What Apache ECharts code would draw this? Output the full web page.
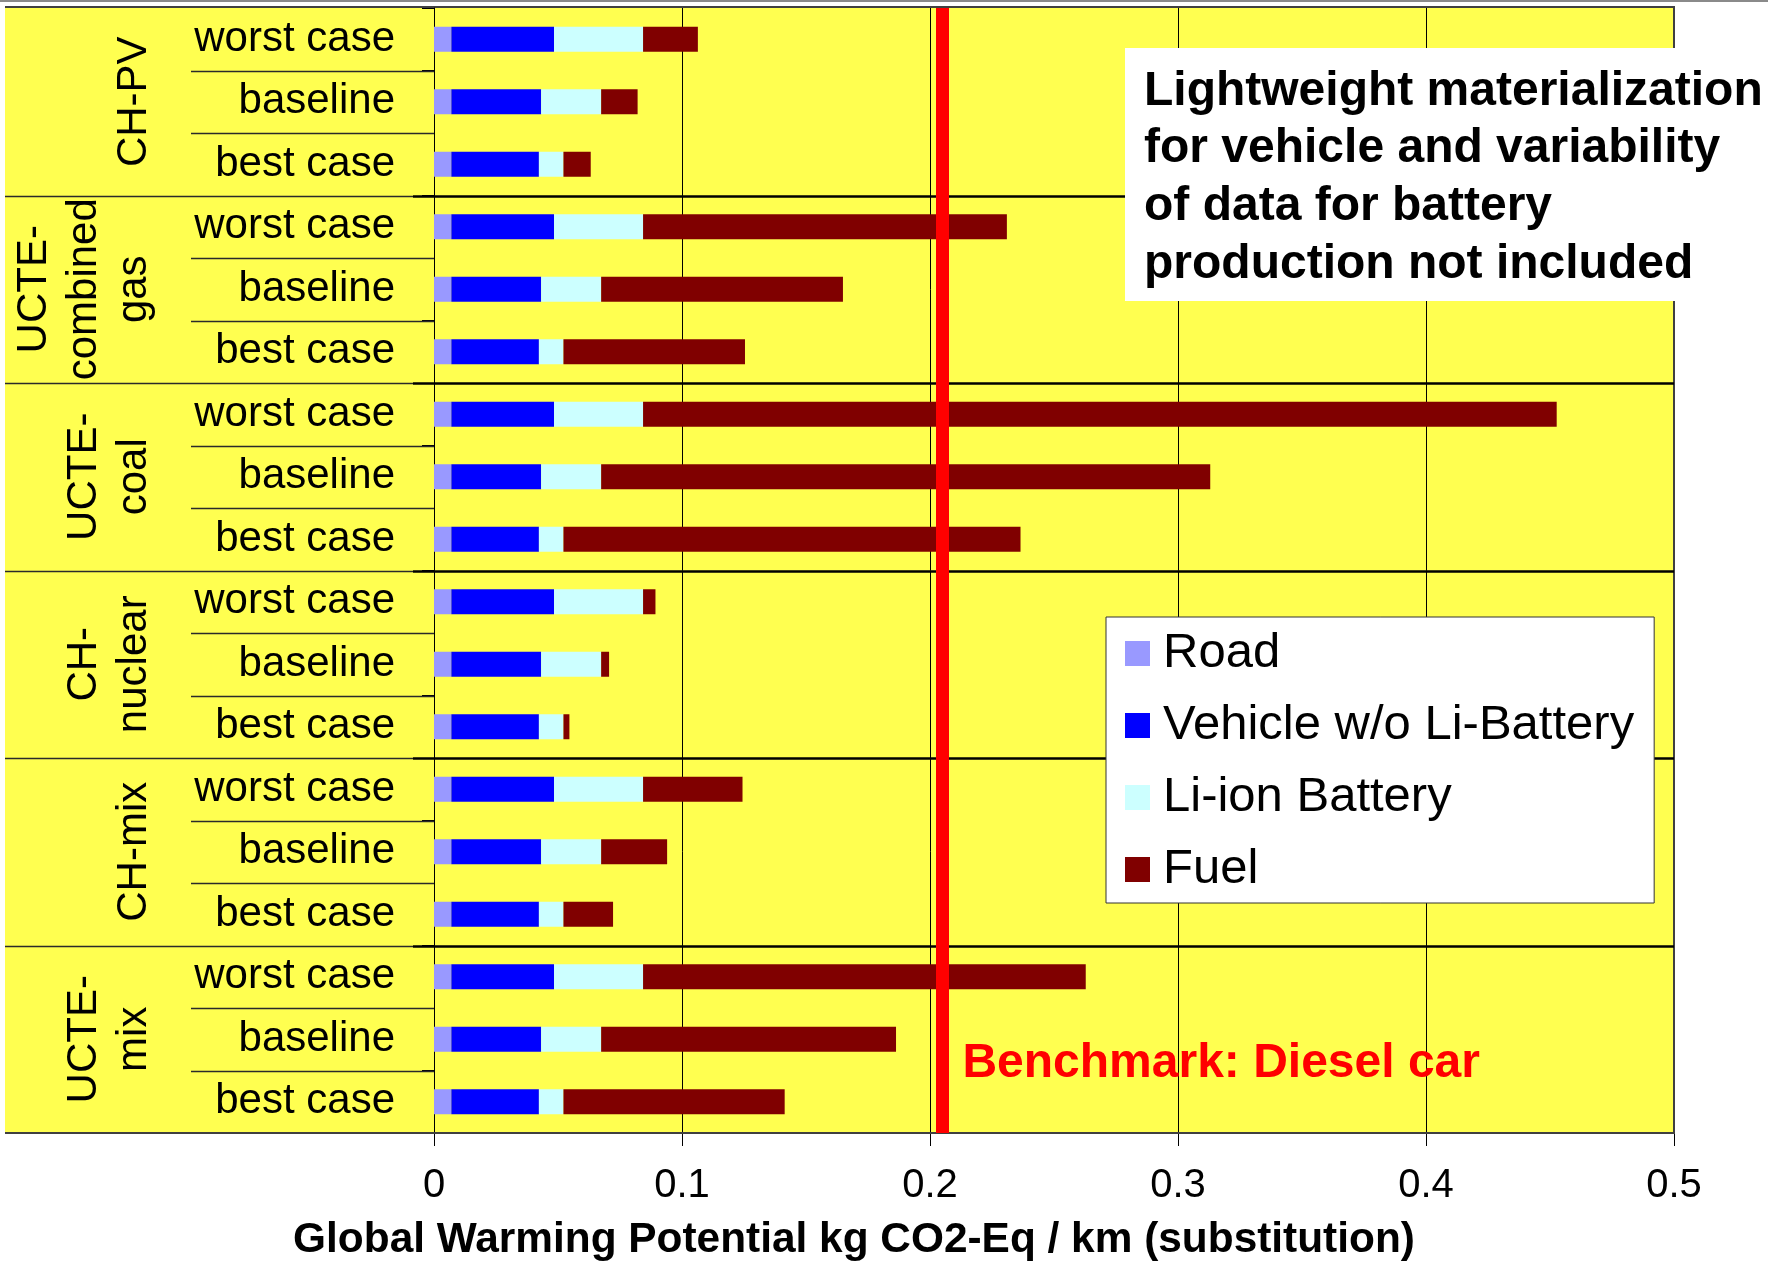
<!DOCTYPE html>
<html>
<head>
<meta charset="utf-8">
<script src="https://cdn.jsdelivr.net/npm/echarts@6/dist/echarts.min.js"></script>
<style>
  html, body { margin: 0; padding: 0; background: #fff; }
  #chart { width: 1768px; height: 1261px; }
</style>
</head>
<body>
<div id="chart"></div>
<script>
// Electricity supply scenarios (one group of three cases each), top to bottom
const groupNames = ['CH-PV', 'UCTE-\ncombined\ngas', 'UCTE-\ncoal', 'CH-\nnuclear', 'CH-mix', 'UCTE-\nmix'];
const caseNames = ['worst case', 'baseline', 'best case'];

// One row per scenario case (18 rows)
const categories = [
  'worst case', 'baseline', 'best case',
  'worst case', 'baseline', 'best case',
  'worst case', 'baseline', 'best case',
  'worst case', 'baseline', 'best case',
  'worst case', 'baseline', 'best case',
  'worst case', 'baseline', 'best case'
];

// kg CO2-Eq / km contributions
const road = [
  0.007, 0.007, 0.007,
  0.007, 0.007, 0.007,
  0.007, 0.007, 0.007,
  0.007, 0.007, 0.007,
  0.007, 0.007, 0.007,
  0.007, 0.007, 0.007
];
const vehicle = [
  0.0414, 0.0362, 0.0353,
  0.0414, 0.0362, 0.0353,
  0.0414, 0.0362, 0.0353,
  0.0414, 0.0362, 0.0353,
  0.0414, 0.0362, 0.0353,
  0.0414, 0.0362, 0.0353
];
const battery = [
  0.0359, 0.0242, 0.0099,
  0.0359, 0.0242, 0.0099,
  0.0359, 0.0242, 0.0099,
  0.0359, 0.0242, 0.0099,
  0.0359, 0.0242, 0.0099,
  0.0359, 0.0242, 0.0099
];
const fuel = [
  0.0221, 0.0147, 0.0110,
  0.1467, 0.0975, 0.0732,
  0.3684, 0.2456, 0.1843,
  0.0050, 0.0032, 0.0024,
  0.0401, 0.0266, 0.0200,
  0.1785, 0.1189, 0.0892
];

const benchmarkDiesel = 0.205;
const xTickLabels = ['0', '0.1', '0.2', '0.3', '0.4', '0.5'];

const seriesNames = ['Road', 'Vehicle w/o Li-Battery', 'Li-ion Battery', 'Fuel'];
const seriesValues = [road, vehicle, battery, fuel];
const seriesColors = ['#9999FF', '#0000FF', '#CCFFFF', '#800000'];

const noteLines = [
  'Lightweight materialization',
  'for vehicle and variability',
  'of data for battery',
  'production not included'
];
const benchmarkLabel = 'Benchmark: Diesel car';
const axisTitle = 'Global Warming Potential kg CO2-Eq / km (substitution)';

const FONT = '"Liberation Sans", Arial, Helvetica, sans-serif';
const W = 1768, H = 1261;
const GRID = { left: 434, right: 94, top: 8, bottom: 128 };
const plotTop = GRID.top;
const plotBottom = H - GRID.bottom;
const panelLeft = 5;
const YELLOW = '#FFFF50';

const chart = echarts.init(document.getElementById('chart'), null, { renderer: 'canvas' });

chart.setOption({
  animation: false,
  backgroundColor: '#ffffff',
  textStyle: { fontFamily: FONT },
  grid: { left: GRID.left, right: GRID.right, top: GRID.top, bottom: GRID.bottom, containLabel: false },
  xAxis: {
    type: 'value',
    min: 0,
    max: 0.5,
    interval: 0.1,
    axisLine: { show: true, onZero: false, lineStyle: { color: '#404040', width: 2 } },
    axisTick: { show: true, length: 13, lineStyle: { color: '#000', width: 1 } },
    axisLabel: {
      fontSize: 40, color: '#000', margin: 33, fontFamily: FONT,
      formatter: (v, idx) => xTickLabels[idx]
    },
    splitLine: { show: true, lineStyle: { color: '#000', width: 1 } }
  },
  yAxis: {
    type: 'category',
    inverse: true,
    data: categories,
    axisLine: { show: true, lineStyle: { color: '#000', width: 1 } },
    axisTick: { show: true, length: 12, lineStyle: { color: '#000', width: 1 } },
    axisLabel: { fontSize: 42, color: '#000', margin: 39, fontFamily: FONT, padding: [5, 0, 0, 0] },
    splitLine: { show: false }
  },
  legend: {
    orient: 'vertical',
    left: 1106,
    top: 617,
    backgroundColor: '#ffffff',
    borderColor: '#333333',
    borderWidth: 1,
    padding: [12, 20, 9, 19],
    itemGap: 23,
    itemWidth: 25,
    itemHeight: 25,
    icon: 'rect',
    selectedMode: false,
    textStyle: { fontSize: 49, lineHeight: 49, color: '#000', fontFamily: FONT, padding: [0, 0, 0, 8] },
    data: seriesNames
  },
  series: seriesNames.map((name, i) => {
    const s = {
      name: name,
      type: 'bar',
      stack: 'gwp',
      barWidth: '40%',
      data: seriesValues[i],
      itemStyle: { color: seriesColors[i] },
      silent: true
    };
    if (i === seriesNames.length - 1) {
      s.markLine = {
        silent: true,
        precision: 4,
        symbol: ['none', 'none'],
        label: { show: false },
        lineStyle: { color: '#FF0000', width: 13, type: 'solid' },
        data: [{ xAxis: benchmarkDiesel }]
      };
    }
    return s;
  })
});

// Decorations placed from the chart's own axis scales
const xPx = v => chart.convertToPixel({ xAxisIndex: 0 }, v);
const yPx = i => chart.convertToPixel({ yAxisIndex: 0 }, i);
const plotLeft = xPx(0);
const plotRight = xPx(0.5);
const rowBoundary = k => {
  if (k <= 0) return plotTop;
  if (k >= categories.length) return plotBottom;
  return (yPx(k - 1) + yPx(k)) / 2;
};

const gfx = [];

// yellow panel behind labels and plot
gfx.push({
  type: 'rect', z: -10, silent: true,
  shape: { x: panelLeft, y: plotTop, width: plotRight - panelLeft, height: plotBottom - plotTop },
  style: { fill: YELLOW }
});

// thin grey rule at the very top of the page
gfx.push({
  type: 'rect', z: 1, silent: true,
  shape: { x: 0, y: 0, width: W, height: 2 },
  style: { fill: '#8a8a8a' }
});

// frame lines
gfx.push({ type: 'line', z: 1, silent: true,
  shape: { x1: panelLeft, y1: plotTop - 1, x2: plotRight + 1, y2: plotTop - 1 },
  style: { stroke: '#000', lineWidth: 1.5 } });
gfx.push({ type: 'line', z: 1, silent: true,
  shape: { x1: panelLeft, y1: plotBottom, x2: plotRight + 1, y2: plotBottom },
  style: { stroke: '#404040', lineWidth: 2 } });
gfx.push({ type: 'line', z: 1, silent: true,
  shape: { x1: plotRight, y1: plotTop - 1, x2: plotRight, y2: plotBottom },
  style: { stroke: '#404040', lineWidth: 2 } });

// row and group separators
for (let k = 1; k < categories.length; k++) {
  const y = Math.round(rowBoundary(k)) + 0.5;
  if (k % caseNames.length === 0) {
    gfx.push({ type: 'line', z: 1, silent: true,
      shape: { x1: panelLeft, y1: y, x2: plotLeft - 21, y2: y },
      style: { stroke: '#2a2a2a', lineWidth: 1.4 } });
    gfx.push({ type: 'line', z: 1, silent: true,
      shape: { x1: plotLeft - 21, y1: y, x2: plotRight, y2: y },
      style: { stroke: '#000', lineWidth: 2.5 } });
  } else {
    gfx.push({ type: 'line', z: 1, silent: true,
      shape: { x1: 191, y1: y, x2: plotLeft, y2: y },
      style: { stroke: '#2a2a2a', lineWidth: 1.4 } });
  }
}

// scenario group titles, rotated
groupNames.forEach((g, gi) => {
  const mid = yPx(gi * caseNames.length + 1);
  gfx.push({
    type: 'text', z: 3, silent: true,
    x: 159, y: mid, rotation: Math.PI / 2,
    style: {
      text: g, fill: '#000',
      fontSize: 42, fontFamily: FONT, lineHeight: 50,
      align: 'center', verticalAlign: 'bottom',
      textAlign: 'center', textVerticalAlign: 'bottom'
    }
  });
});

// benchmark caption next to the red line
gfx.push({
  type: 'text', z: 6, silent: true,
  x: xPx(benchmarkDiesel) + 20, y: plotBottom - 69,
  style: {
    text: benchmarkLabel, fill: '#FF0000',
    fontSize: 48, fontWeight: 'bold', fontFamily: FONT,
    align: 'left', verticalAlign: 'middle',
    textAlign: 'left', textVerticalAlign: 'middle'
  }
});

// note box
gfx.push({
  type: 'rect', z: 10, silent: true,
  shape: { x: 1125, y: 48, width: W - 1125, height: 253 },
  style: { fill: '#ffffff' }
});
gfx.push({
  type: 'text', z: 11, silent: true,
  x: 1144, y: 62.5,
  style: {
    text: noteLines.join('\n'), fill: '#000',
    fontSize: 48, fontWeight: 'bold', fontFamily: FONT, lineHeight: 57.8,
    align: 'left', verticalAlign: 'top',
    textAlign: 'left', textVerticalAlign: 'top'
  }
});

// x-axis title
gfx.push({
  type: 'text', z: 3, silent: true,
  x: 854, y: 1240,
  style: {
    text: axisTitle, fill: '#000',
    fontSize: 42.4, fontWeight: 'bold', fontFamily: FONT,
    align: 'center', verticalAlign: 'middle',
    textAlign: 'center', textVerticalAlign: 'middle'
  }
});

chart.setOption({ graphic: { elements: gfx } });
</script>
</body>
</html>
